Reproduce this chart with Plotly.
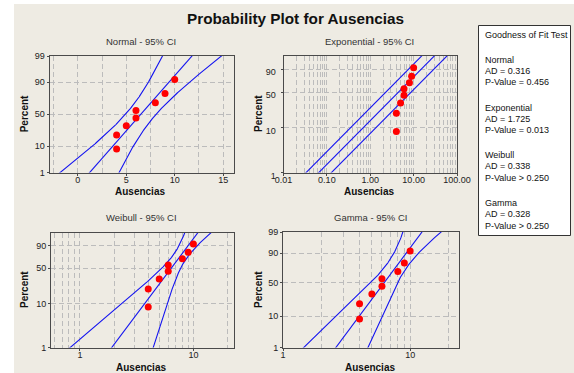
import math
from statistics import NormalDist
import numpy as np
import plotly.graph_objects as go

# ---------------- data ----------------
ausencias = [4, 4, 5, 6, 6, 8, 9, 10]

# fitted parameters
normal_mu = 6.5
normal_sigma = 2.27
expo_theta = 6.5
weib_shape = 3.5
weib_scale = 7.1
gamma_shape = 9.47
gamma_scale = 0.686

# goodness of fit table
gof_names = ["Normal", "Exponential", "Weibull", "Gamma"]
gof_ad = ["0.316", "1.725", "0.338", "0.328"]
gof_p = ["= 0.456", "= 0.013", "> 0.250", "> 0.250"]

subplot_titles = ["Normal - 95% CI", "Exponential - 95% CI", "Weibull - 95% CI", "Gamma - 95% CI"]
pct_ticks_full = [1, 10, 50, 90, 99]
pct_ticks_short = [1, 10, 50, 90]
normal_xticks = [0, 5, 10, 15]
normal_xminor = [-2.5, 2.5, 7.5, 12.5]
expo_xticks = [0.01, 0.1, 1, 10, 100]
expo_xticktext = ["0.01", "0.10", "1.00", "10.00", "100.00"]
weib_xticks = [1, 10]
weib_xminor = [0.6, 0.7, 0.8, 0.9, 2, 3, 4, 5, 6, 7, 8, 9, 20]
gamma_xticks = [1, 10]
gamma_xminor = [2, 3, 4, 5, 6, 7, 8, 9, 20]

# ---------------- helpers ----------------
W, H = 574, 373
ND = NormalDist()


def px(x):
    return x / W


def py(y):
    return 1 - y / H


def zscore(p):
    return ND.inv_cdf(p)


def sev(p):
    return math.log(-math.log(1 - p))


def gamma_p(a, x):
    if x <= 0:
        return 0.0
    term = 1.0 / a
    s = term
    for k in range(1, 400):
        term *= x / (a + k)
        s += term
        if term < s * 1e-14:
            break
    return s * math.exp(-x + a * math.log(x) - math.lgamma(a))


def gamma_ppf(p, a):
    lo, hi = 1e-8, 200.0
    for _ in range(100):
        mid = 0.5 * (lo + hi)
        if gamma_p(a, mid) < p:
            lo = mid
        else:
            hi = mid
    return 0.5 * (lo + hi)


def gscore(p):
    return math.log(gamma_ppf(p, gamma_shape))


n = len(ausencias)
ranks = [(i - 0.3) / (n + 0.4) for i in range(1, n + 1)]
pgrid = list(np.linspace(0.006, 0.994, 220))

BLUE = "#1414f0"
RED = "#ff0000"
GRID = "#bcbcbc"
BG = "#eeebe3"
FONT = "Liberation Sans"
DASH = "5px,3px"

fig = go.Figure()


def add_lines(xa, ya, xs_list):
    for xs, ys in xs_list:
        fig.add_trace(go.Scatter(x=xs, y=ys, mode="lines", xaxis=xa, yaxis=ya,
                                 line=dict(color=BLUE, width=1.1), showlegend=False,
                                 hoverinfo="skip"))


def add_points(xa, ya, ys):
    fig.add_trace(go.Scatter(x=ausencias, y=ys, mode="markers", xaxis=xa, yaxis=ya,
                             marker=dict(color=RED, size=7), showlegend=False))


# Normal
zs = [zscore(p) for p in pgrid]
c = [normal_mu + normal_sigma * z for z in zs]
h = [1.96 * normal_sigma / math.sqrt(n) * math.sqrt(1 + z * z / 2) for z in zs]
add_lines("x", "y", [(c, zs), ([a - b for a, b in zip(c, h)], zs), ([a + b for a, b in zip(c, h)], zs)])
add_points("x", "y", [zscore(p) for p in ranks])

# Exponential
ws = [sev(p) for p in pgrid]
c = [expo_theta * math.exp(w) for w in ws]
he = 1.96 / math.sqrt(n) * 0.97
add_lines("x2", "y2", [(c, ws), ([v * math.exp(-he) for v in c], ws), ([v * math.exp(he) for v in c], ws)])
add_points("x2", "y2", [sev(p) for p in ranks])

# Weibull
c = [weib_scale * math.exp(w / weib_shape) for w in ws]
hw = [math.sqrt(0.02675 - 0.01488 * w + 0.02885 * w * w) for w in ws]
add_lines("x3", "y3", [(c, ws), ([v * math.exp(-d) for v, d in zip(c, hw)], ws),
                       ([v * math.exp(d) for v, d in zip(c, hw)], ws)])
add_points("x3", "y3", [sev(p) for p in ranks])

# Gamma
gs = [gscore(p) for p in pgrid]
c = [gamma_scale * math.exp(g) for g in gs]
hg = [0.24 * math.sqrt(1 - 0.815 * z + 0.548 * z * z) for z in zs]
add_lines("x4", "y4", [(c, gs), ([v * math.exp(-d) for v, d in zip(c, hg)], gs),
                       ([v * math.exp(d) for v, d in zip(c, hg)], gs)])
add_points("x4", "y4", [gscore(p) for p in ranks])

# ---------------- axes ----------------
tickfont = dict(family=FONT, size=9, color="#222")


def ax_common(standoff=0, shift=0):
    return dict(showgrid=True, gridcolor=GRID, griddash=DASH, gridwidth=1,
                showline=True, mirror=True, linecolor="#4a4a4a", linewidth=1,
                ticks="outside", ticklen=2, tickcolor="#4a4a4a", zeroline=False,
                tickfont=tickfont, fixedrange=True, automargin=False,
                ticklabelstandoff=standoff, ticklabelshift=shift)


def minor(vals):
    return dict(tickvals=vals, showgrid=True, gridcolor=GRID, griddash=DASH, gridwidth=1, ticks="")


boxes = {
    "": (49.5, 233.5, 56, 172.5),
    "2": (283.5, 457, 56, 172.5),
    "3": (51, 234, 232.5, 347.5),
    "4": (283, 458.5, 232, 347.5),
}
XS = -3

lay = {}
d = boxes[""]
lay["xaxis"] = dict(ax_common(XS), domain=[px(d[0]), px(d[1])], anchor="y", range=[-2.93, 16.07],
                    tickvals=normal_xticks, minor=minor(normal_xminor))
lay["yaxis"] = dict(ax_common(), domain=[py(d[3]), py(d[2])], anchor="x",
                    range=[zscore(0.01), zscore(0.99)],
                    tickvals=[zscore(p / 100) for p in pct_ticks_full],
                    ticktext=[str(p) for p in pct_ticks_full])
d = boxes["2"]
lay["xaxis2"] = dict(ax_common(XS), domain=[px(d[0]), px(d[1])], anchor="y2", type="log", range=[-2, 2],
                     tickvals=expo_xticks, ticktext=expo_xticktext,
                     minor=minor([m * 10 ** e for e in range(-2, 2) for m in range(2, 10)]))
lay["yaxis2"] = dict(ax_common(3, 3), domain=[py(d[3]), py(d[2])], anchor="x2",
                     range=[sev(0.01), sev(0.99)],
                     tickvals=[sev(p / 100) for p in pct_ticks_short],
                     ticktext=[str(p) for p in pct_ticks_short])
d = boxes["3"]
lay["xaxis3"] = dict(ax_common(XS), domain=[px(d[0]), px(d[1])], anchor="y3", type="log",
                     range=[math.log10(0.556), math.log10(22.8)],
                     tickvals=weib_xticks, ticktext=[str(v) for v in weib_xticks], minor=minor(weib_xminor))
lay["yaxis3"] = dict(ax_common(), domain=[py(d[3]), py(d[2])], anchor="x3",
                     range=[sev(0.01), sev(0.99)],
                     tickvals=[sev(p / 100) for p in pct_ticks_short],
                     ticktext=[str(p) for p in pct_ticks_short])
d = boxes["4"]
lay["xaxis4"] = dict(ax_common(XS), domain=[px(d[0]), px(d[1])], anchor="y4", type="log",
                     range=[0, math.log10(24)],
                     tickvals=gamma_xticks, ticktext=[str(v) for v in gamma_xticks], minor=minor(gamma_xminor))
lay["yaxis4"] = dict(ax_common(), domain=[py(d[3]), py(d[2])], anchor="x4",
                     range=[gscore(0.01), gscore(0.99)],
                     tickvals=[gscore(p / 100) for p in pct_ticks_full],
                     ticktext=[str(p) for p in pct_ticks_full])

fig.update_layout(**lay)

# ---------------- text ----------------
ann = []


def text(x, y, s, size=9, bold=False, angle=0, xanchor="center", color="#222"):
    ann.append(dict(x=px(x), y=py(y), xref="paper", yref="paper", text=("<b>%s</b>" % s) if bold else s,
                    showarrow=False, textangle=angle, xanchor=xanchor, yanchor="middle",
                    font=dict(family=FONT, size=size, color=color)))


text(295, 18, "Probability Plot for Ausencias", size=15.3, bold=True, color="#111")
title_pos = [(141, 42), (369, 42), (141, 217), (370, 217)]
for t, (x, y) in zip(subplot_titles, title_pos):
    text(x, y, t, size=9.5, color="#333")
for (x, y) in [(24.3, 114), (258, 114), (24, 290), (258, 290)]:
    text(x, y, "Percent", size=10, bold=True, angle=-90, color="#111")
for (x, y) in [(140, 191), (369, 191), (140.5, 367), (369.5, 367)]:
    text(x, y, "Ausencias", size=10, bold=True, color="#111")

lx = 483
text(lx, 35, "Goodness of Fit Test", xanchor="left", color="#111")
ys0 = [59.5, 107.5, 155, 203]
for name, ad, pv, y0 in zip(gof_names, gof_ad, gof_p, ys0):
    text(lx, y0, name, xanchor="left", color="#111")
    text(lx, y0 + 11.3, "AD = " + ad, xanchor="left", color="#111")
    text(lx, y0 + 22.6, "P-Value " + pv, xanchor="left", color="#111")

shapes = [
    dict(type="rect", xref="paper", yref="paper", x0=px(14), x1=1.0, y0=0, y1=py(4),
         fillcolor=BG, line=dict(width=0), layer="below"),
    dict(type="rect", xref="paper", yref="paper", x0=px(478.5), x1=px(570.5), y0=py(235.5), y1=py(25.5),
         fillcolor="white", line=dict(color="#333", width=1), layer="below"),
]

fig.update_layout(width=W, height=H, margin=dict(l=0, r=0, t=0, b=0, pad=0, autoexpand=False),
                  paper_bgcolor="white", plot_bgcolor="white",
                  annotations=ann, shapes=shapes, showlegend=False)

fig.write_html("out.html")
